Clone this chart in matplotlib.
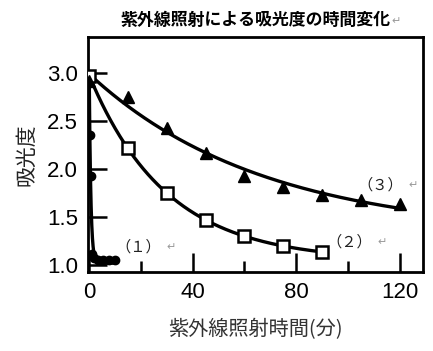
import numpy as np
import matplotlib
matplotlib.use('Agg')
import matplotlib.pyplot as plt

plt.rcParams['font.family'] = ['Liberation Sans', 'Noto Sans CJK JP', 'DejaVu Sans']

# (1) filled circles
t1 = [0, 0.3, 0.6, 1, 2, 3.5, 5.5, 7.5, 10]
a1 = [2.92, 2.35, 1.93, 1.12, 1.08, 1.06, 1.05, 1.05, 1.05]
# (2) open squares
t2 = [0, 15, 30, 45, 60, 75, 90]
a2 = [2.97, 2.22, 1.75, 1.47, 1.30, 1.20, 1.14]
# (3) filled triangles
t3 = [0, 15, 30, 45, 60, 75, 90, 105, 120]
a3 = [2.92, 2.75, 2.43, 2.17, 1.93, 1.81, 1.73, 1.68, 1.64]

labels = ['（１）', '（２）', '（３）']
label_pos = [(10, 1.19), (91.5, 1.24), (103.5, 1.83)]


def fit_exp(t, y):
    # least squares y = c + b*exp(-k t), k by grid search
    t = np.asarray(t, float)
    y = np.asarray(y, float)
    best = None
    for k in np.logspace(-3, 1.5, 600):
        X = np.column_stack([np.ones_like(t), np.exp(-k * t)])
        coef, *_ = np.linalg.lstsq(X, y, rcond=None)
        r = np.sum((X @ coef - y) ** 2)
        if best is None or r < best[0]:
            best = (r, k, coef)
    _, k, (c, b) = best
    return lambda x: c + b * np.exp(-k * x)


fig = plt.figure(figsize=(4.33, 3.51), dpi=100)
ax = fig.add_axes([0.203, 0.225, 0.774, 0.670])

for t, a, end in [(t1, a1, 10), (t2, a2, 90), (t3, a3, 120)]:
    f = fit_exp(t, a)
    xs = np.linspace(0, end, 600)
    ax.plot(xs, f(xs), color='black', lw=2.4, zorder=2)

ax.plot(t1, a1, 'o', color='black', ms=6, zorder=3)
ax.plot(t2, a2, 's', mfc='white', mec='black', mew=1.8, ms=8, zorder=3)
ax.plot(t3, a3, '^', color='black', ms=8, zorder=3)

for lab, (x, y) in zip(labels, label_pos):
    ax.text(x, y, lab, fontsize=11, family=['Noto Sans CJK JP', 'DejaVu Sans'],
            color='#222222', va='center', ha='left')
    ax.text(x + 20, y, '↵', fontsize=8, family=['DejaVu Sans'],
            color='#999999', va='center', ha='left')

ax.set_xlim(-0.5, 129)
ax.set_ylim(0.93, 3.375)
ax.set_xticks([0, 40, 80, 120])
ax.set_xticks([20, 60, 100], minor=True)
ax.set_yticks([1.0, 1.5, 2.0, 2.5, 3.0])
ax.set_yticklabels(['1.0', '1.5', '2.0', '2.5', '3.0'])
ax.tick_params(axis='both', which='major', direction='in', length=14, width=1.8,
               labelsize=16, pad=7)
ax.tick_params(axis='x', which='minor', direction='in', length=8, width=1.8)
for s in ax.spines.values():
    s.set_linewidth(2)

ax.set_xlabel('紫外線照射時間(分)', fontsize=14.5, color='#333333',
              family=['Noto Sans CJK JP'], labelpad=12)
ax.set_ylabel('吸光度', fontsize=15, color='#222222',
              family=['Noto Sans CJK JP'], labelpad=7)

fig.text(0.59, 0.943, '紫外線照射による吸光度の時間変化', fontsize=12.2,
         fontweight='bold', family=['Noto Sans CJK JP'], ha='center', va='center')
fig.text(0.905, 0.940, '↵', fontsize=8, color='#999999', family=['DejaVu Sans'],
         va='center')

fig.savefig('out.png', dpi=100)
